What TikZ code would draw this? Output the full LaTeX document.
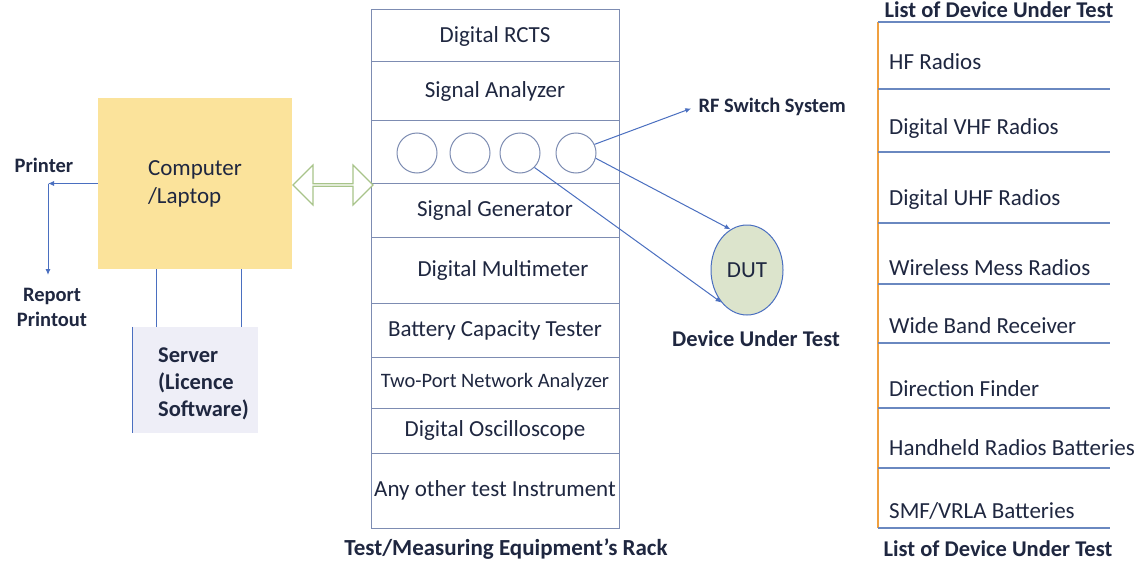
\documentclass[tikz,border=0pt]{standalone}
\usepackage{fontspec}
\setmainfont{Carlito}
\usetikzlibrary{shapes.geometric,shapes.arrows,arrows.meta}
\definecolor{txt}{HTML}{1F2740}
\definecolor{rackc}{HTML}{7D8CB2}
\definecolor{bluel}{HTML}{4A6FC0}
\definecolor{listl}{HTML}{6A88C0}
\definecolor{orl}{HTML}{F0A040}
\definecolor{compy}{HTML}{FBE39B}
\definecolor{srvf}{HTML}{EEEEF7}
\definecolor{dutf}{HTML}{DCE4CC}
\definecolor{arrg}{HTML}{A8C48A}
\tikzset{
  norm/.style={font=\fontsize{23}{28}\selectfont},
  bld/.style={font=\fontsize{22.5}{27}\selectfont\bfseries},
  bldsm/.style={font=\fontsize{20.5}{25}\selectfont\bfseries},
  rackrow/.style={draw=rackc, line width=1pt, minimum width=248pt, inner sep=0pt, norm},
  port/.style={circle, draw=rackc, line width=1pt, minimum size=40pt, inner sep=0pt},
  conn/.style={draw=bluel, line width=1pt},
  arr/.style={conn, -{Latex[length=6pt,width=5pt]}},
  item/.style={anchor=west, norm, inner sep=0pt},
  lline/.style={draw=listl, line width=1.2pt}
}
\begin{document}
\begin{tikzpicture}[x=1pt,y=-1pt, every node/.append style={text=txt}]
\useasboundingbox[fill=white] (0,0) rectangle (1145,567);

% Rack
\node[rackrow, minimum height=52pt] (r1) at (495,36) {Digital RCTS};
\node[rackrow, minimum height=59pt] (r2) at (495,91.5) {Signal Analyzer};
\node[rackrow, minimum height=62pt] (r3) at (495,152) {};
\node[rackrow, minimum height=54pt] (r4) at (495,210) {Signal Generator};
\node[rackrow, minimum height=66pt] (r5) at (495,270) {\hspace*{16pt}Digital Multimeter};
\node[rackrow, minimum height=54pt] (r6) at (495,330) {Battery Capacity Tester};
\node[rackrow, minimum height=51pt, font=\fontsize{20.5}{24}\selectfont] (r7) at (495,382.5) {Two-Port Network Analyzer};
\node[rackrow, minimum height=45pt] (r8) at (495,430.5) {Digital Oscilloscope};
\node[rackrow, minimum height=75pt] (r9) at (495,490.5) {Any other test Instrument};
\node[bld, font=\fontsize{23}{27}\selectfont\bfseries] (racklbl) at (506,549) {Test/Measuring Equipment’s Rack};

\node[port] (c1) at (417,153) {};
\node[port] (c2) at (470,153) {};
\node[port] (c3) at (520,153) {};
\node[port] (c4) at (576,153) {};

% Computer and server
\node[fill=compy, minimum width=194pt, minimum height=171pt, inner sep=0pt, align=left, norm] (comp) at (195,183.5) {Computer\\/Laptop};
\node[fill=srvf, minimum width=125pt, minimum height=106pt, inner sep=0pt] (server) at (195.5,380) {};
\draw[conn] (server.north west) -- (server.south west);
\node[anchor=west, align=left, font=\fontsize{22.5}{27}\selectfont\bfseries, inner sep=0pt] (srvtxt) at (158,384) {Server\\(Licence\\Software)};
\draw[conn] (156,0 |- comp.south) -- (156,0 |- server.north);
\draw[conn] (241,0 |- comp.south) -- (241,0 |- server.north);

% Printer
\node[bldsm] (printer) at (44,165) {Printer};
\node[bldsm, align=center] (report) at (52,307) {Report\\Printout};
\coordinate (pr) at (48,183.5);
\coordinate (rp) at (48,275);
\draw[arr] (comp.west) -- (pr);
\draw[arr] (pr) -- (rp);

% Double arrow
\node[double arrow, draw=arrg, line width=1.2pt, fill=white, minimum height=80pt, minimum width=40pt, double arrow head extend=9pt, inner sep=0pt] (dbl) at (333,185) {};

% DUT and RF switch
\node[ellipse, draw=bluel, line width=1pt, fill=dutf, minimum width=72pt, minimum height=90pt, inner sep=0pt, norm] (dut) at (747,270) {DUT};
\node[bldsm, anchor=west] (rf) at (695,107) {RF Switch System};
\node[bld] (dutlbl) at (756,339) {Device Under Test};
\draw[arr, shorten >=4pt] (c4.25) -- (rf.west);
\draw[arr] (c4.-15) -- (dut.112);
\draw[arr] (c3.-45) -- (dut.232);

% List of devices
\node[bld] (ltop) at (999,10) {List of Device Under Test};
\node[bld] (lbot) at (998,549) {List of Device Under Test};
\coordinate (lt) at (878,22);
\coordinate (lb) at (878,528);
\draw[draw=orl, line width=1.5pt] (lt) -- (lb);
\foreach \yy in {22,89,152,223,284,343,408,468,528}
  \draw[lline] (878,\yy) -- (1110,\yy);
\node[item] (d1) at (889,62) {HF Radios};
\node[item] (d2) at (889,128) {Digital VHF Radios};
\node[item] (d3) at (889,199) {Digital UHF Radios};
\node[item] (d4) at (889,268) {Wireless Mess Radios};
\node[item] (d5) at (889,326) {Wide Band Receiver};
\node[item] (d6) at (889,389) {Direction Finder};
\node[item] (d7) at (889,448) {Handheld Radios Batteries};
\node[item] (d8) at (889,511) {SMF/VRLA Batteries};
\end{tikzpicture}
\end{document}
